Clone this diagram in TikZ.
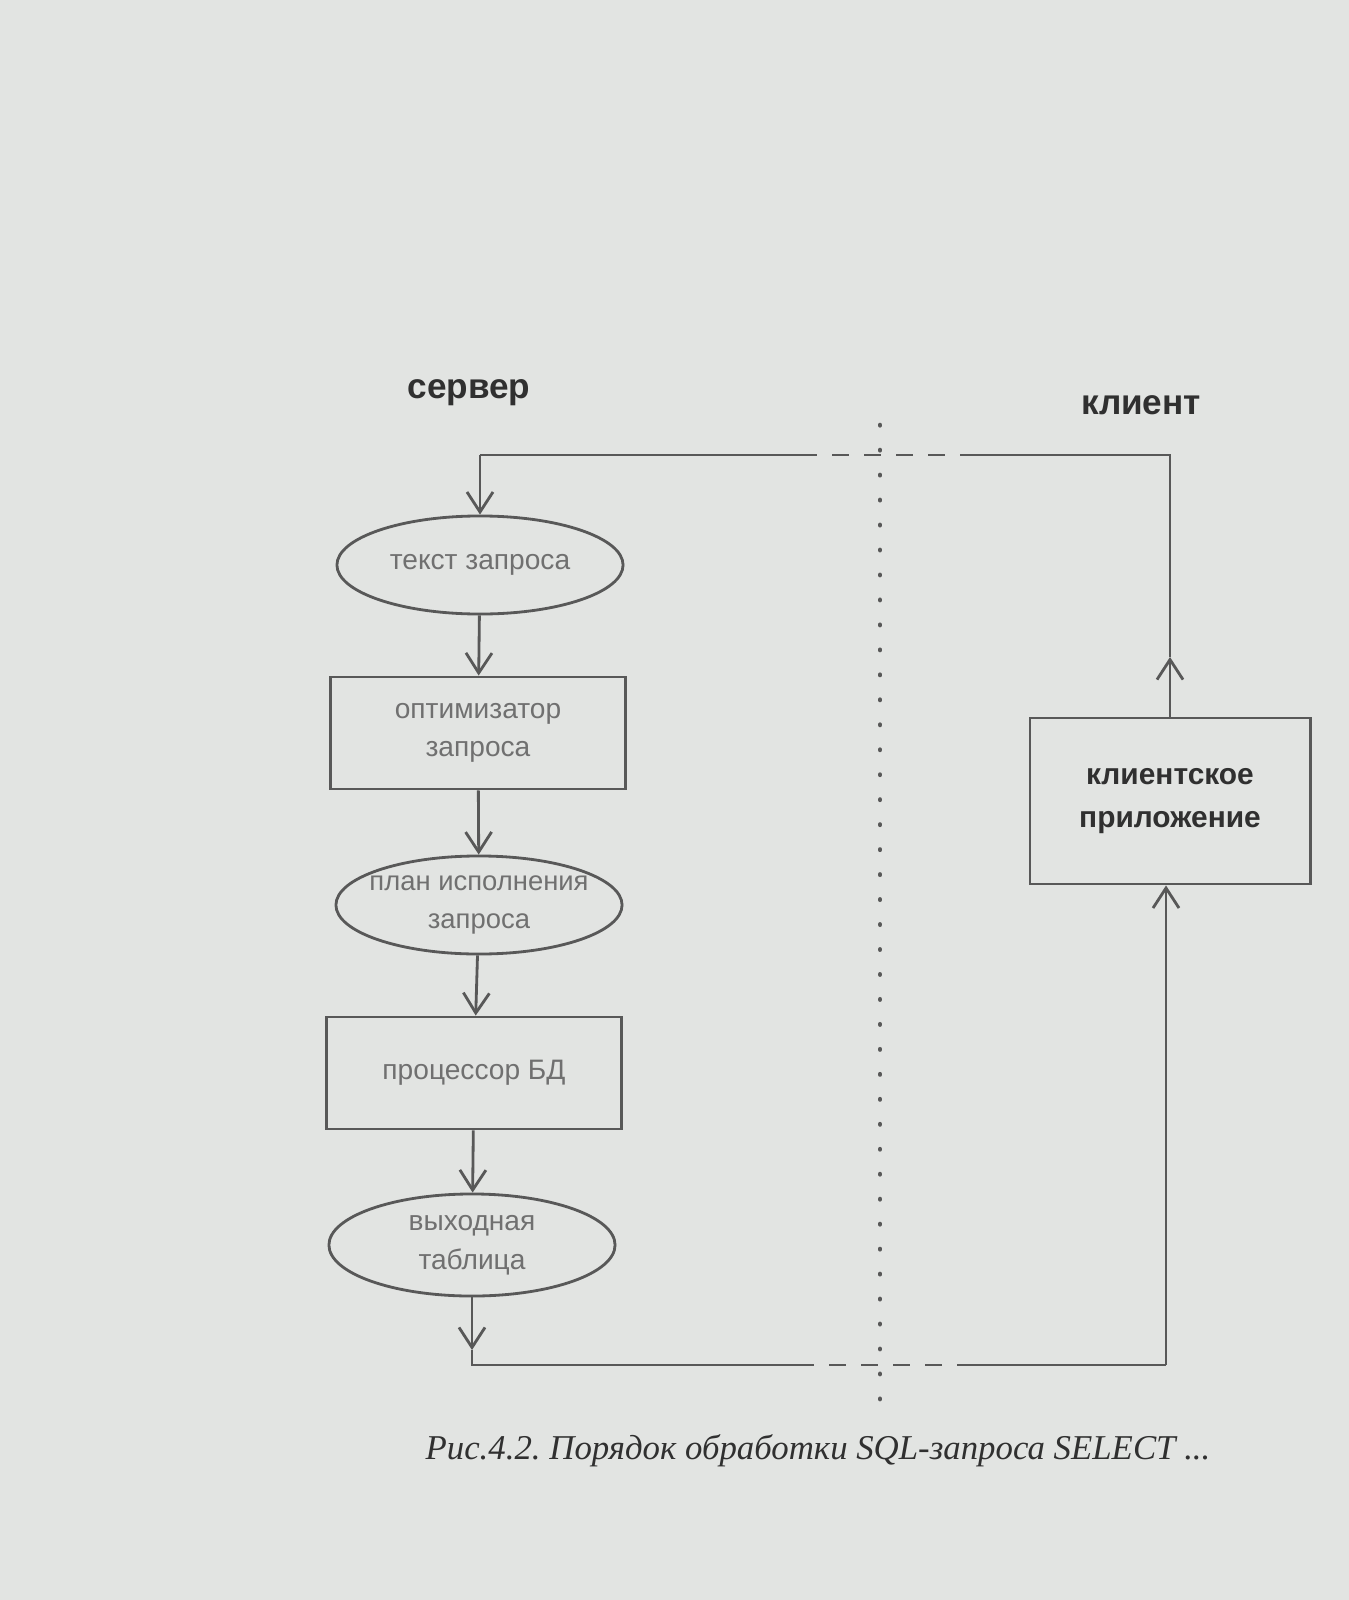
\documentclass[tikz,border=0pt]{standalone}
\usepackage{fontspec}
\setmainfont{Liberation Serif}
\setsansfont{Liberation Sans}
\usetikzlibrary{arrows.meta,calc,shapes.geometric}
\definecolor{PaperClr}{RGB}{226,228,226}
\definecolor{LineClr}{RGB}{88,88,88}
\definecolor{TextClr}{RGB}{112,112,112}
\definecolor{DarkClr}{RGB}{48,48,48}
\frenchspacing

\begin{document}
\begin{tikzpicture}[x=0.01cm,y=-0.01cm,
  wire/.style={line width=0.8pt,color=LineClr},
  flow/.style={wire,-{Straight Barb[length=2mm,width=2.6mm]}},
  gapline/.style={wire,dash pattern=on 1.7mm off 1.5mm},
  oval/.style={ellipse,draw=LineClr,line width=0.8pt,inner xsep=-4pt,inner ysep=-2pt,
    minimum width=2.86cm,minimum height=0.98cm,align=center,text=TextClr,
    font=\sffamily\fontsize{8}{11}\selectfont},
  block/.style={rectangle,draw=LineClr,line width=0.8pt,minimum width=2.95cm,
    minimum height=1.12cm,align=center,text=TextClr,font=\sffamily\fontsize{8}{11}\selectfont},
  side/.style={text=DarkClr,font=\sffamily\bfseries\fontsize{10}{12}\selectfont}]

\fill[PaperClr] (0,0) rectangle (1349,1600);

\node[side] (srv) at (469,393) {сервер};
\node[side] (cli) at (1141,405) {клиент};

\node[oval] (query) at (480,565) {текст запроса};
\node[block] (optim) at (478,733) {оптимизатор\\запроса};
\node[oval,font=\sffamily\fontsize{7.8}{11}\selectfont] (plan) at (479,905) {план исполнения\\запроса};
\node[block] (proc) at (474,1073) {процессор БД};
\node[oval,minimum height=1.02cm] (result) at (472,1245) {выходная\\таблица};
\node[block,minimum width=2.8cm,minimum height=1.66cm,text=DarkClr,
  font=\sffamily\bfseries\fontsize{8.5}{12}\selectfont] (client) at (1170,801) {клиентское\\приложение};

\coordinate (topL) at (480,455);
\coordinate (topR) at (1170,455);
\coordinate (gapTL) at (805,455);
\coordinate (gapTR) at (977,455);
\coordinate (upTip) at (1170,657);
\coordinate (botL) at (472,1365);
\coordinate (botR) at (1166,1365);
\coordinate (gapBL) at (797,1365);
\coordinate (gapBR) at (969,1365);
\coordinate (downTip) at (472,1350);

\draw[flow] (query) -- (optim);
\draw[flow] (optim) -- (plan);
\draw[flow] (plan) -- (proc);
\draw[flow] (proc) -- (result);

\draw[flow] (result) -- (downTip);
\draw[wire] (downTip) -- (botL) -- (gapBL);
\draw[gapline] (gapBL) -- (gapBR);
\draw[wire] (gapBR) -- (botR);
\draw[flow] (botR) -- (botR |- client.south);

\draw[flow] (client) -- (upTip);
\draw[wire] (upTip) -- (topR) -- (gapTR);
\draw[gapline] (gapTR) -- (gapTL);
\draw[wire] (gapTL) -- (topL);
\draw[flow] (topL) -- (query);

\draw[color=LineClr,line width=1.3pt,line cap=round,dash pattern=on 0.1pt off 7pt] (880,425) -- (880,1418);

\node[text=DarkClr,font=\itshape\fontsize{9.9}{12}\selectfont] (cap) at (818,1451) {Рис.4.2. Порядок обработки SQL-запроса SELECT ...};

\end{tikzpicture}
\end{document}
